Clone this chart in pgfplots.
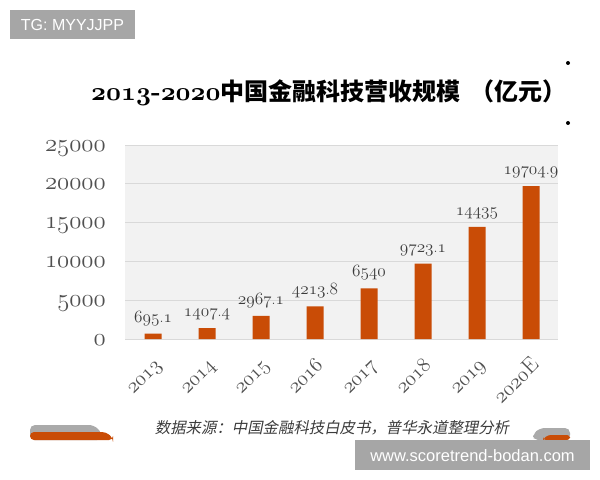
\documentclass[border=0pt]{standalone}
\usepackage{fontspec}
\usepackage{pgfplots}
\pgfplotsset{compat=1.18}

\newfontfamily\cjk{Noto Sans CJK SC}
\newfontfamily\cjkslant{Noto Sans CJK SC}[FakeSlant=0.2]
\newfontfamily\wmfont{Liberation Sans}

% old-style figures from the Latin Modern math italic fonts
\protected\def\osn#1{{\fontencoding{OML}\fontfamily{lmm}\fontseries{m}\fontshape{it}\selectfont#1}}
\font\titlenums=cmmib10 at 26bp

\definecolor{barc}{RGB}{201,76,6}
\definecolor{plotbg}{RGB}{242,242,242}
\definecolor{gridc}{RGB}{217,217,217}
\definecolor{tickc}{RGB}{80,80,80}
\definecolor{valc}{RGB}{60,60,60}
\definecolor{wmgray}{RGB}{166,166,166}
\definecolor{decgray}{RGB}{170,170,170}

\begin{document}
\begin{tikzpicture}[x=1bp,y=-1bp]
\useasboundingbox (0,0) rectangle (600,480);
\fill[white] (0,0) rectangle (600,480);

% title
\node[anchor=base west, inner sep=0pt] at (91,101)
  {{\titlenums 2013}{\fontsize{26bp}{30bp}\selectfont\bfseries -}{\titlenums 2020}%
   \fontsize{24bp}{28bp}\cjk\bfseries 中国金融科技营收规模\hspace{10bp}（亿元）};

% side bullets
\fill[black] (568,63) circle (2);
\fill[black] (568,123) circle (2);

\coordinate (axSW) at (125,339);
\begin{axis}[
  at={(axSW)}, anchor=south west,
  width=433bp, height=194bp, scale only axis,
  xmin=-0.52, xmax=7.5, ymin=0, ymax=25000,
  clip=false,
  scaled y ticks=false,
  axis background/.style={fill=plotbg},
  axis line style={draw=none},
  major tick length=0pt,
  ymajorgrids, grid style={gridc, line width=0.9bp},
  xtick={0,...,7},
  xticklabels={\osn{2013},\osn{2014},\osn{2015},\osn{2016},\osn{2017},\osn{2018},\osn{2019},\osn{2020}E},
  ytick={0,5000,10000,15000,20000,25000},
  yticklabels={\osn{0},\osn{5000},\osn{10000},\osn{15000},\osn{20000},\osn{25000}},
  yticklabel style={font=\fontsize{23.5bp}{26bp}\selectfont, text=tickc, inner sep=0pt, anchor=base east, xshift=-19bp, yshift=-6bp},
  xticklabel style={font=\fontsize{22bp}{24bp}\selectfont, text=tickc, inner sep=0pt, xshift=9bp, yshift=-27bp, rotate=45, anchor=base east},
  every node near coord/.append style={font=\fontsize{16bp}{18bp}\selectfont, text=valc, inner sep=0pt, anchor=base, yshift=11.5bp},
]
\addplot[ybar, bar width=17bp, fill=barc, draw=none,
  nodes near coords, point meta=explicit symbolic]
  coordinates {
    (0,695.1)   [\osn{695}.\osn{1}]
    (1,1407.4)  [\osn{1407}.\osn{4}]
    (2,2967.1)  [\osn{2967}.\osn{1}]
    (3,4213.8)  [\osn{4213}.\osn{8}]
    (4,6540)    [\osn{6540}]
    (5,9723.1)  [\osn{9723}.\osn{1}]
    (6,14435)   [\osn{14435}]
    (7,19704.9) [\osn{19704}.\osn{9}]
  };
\end{axis}

% source line
\node[anchor=center, inner sep=0pt, text=valc] at (332,428)
  {\fontsize{15.4bp}{18bp}\cjkslant 数据来源：中国金融科技白皮书，普华永道整理分析};

% corner ribbons
\fill[decgray, rounded corners=5] (30,425) -- (94,425) -- (102,433) -- (102,440) -- (30,440) -- cycle;
\fill[barc, rounded corners=4] (30,432) -- (106,432) -- (113,438) -- (113,440) -- (30,440) -- cycle;
\fill[decgray, rounded corners=5] (570,428) -- (540,428) -- (533,434) -- (533,440) -- (570,440) -- cycle;
\fill[barc, rounded corners=3] (570,435) -- (548,435) -- (543,439) -- (543,440) -- (570,440) -- cycle;

% overlay tags
\fill[wmgray] (10,10) rectangle (135,39);
\node[text=white, inner sep=0pt] at (72.5,24.5) {\wmfont\fontsize{16bp}{18bp}\selectfont TG: MYYJJPP};
\fill[wmgray] (355,440) rectangle (590,470);
\node[text=white, inner sep=0pt] at (472.5,455.5) {\wmfont\fontsize{16.5bp}{18bp}\selectfont www.scoretrend-bodan.com};
\end{tikzpicture}
\end{document}
